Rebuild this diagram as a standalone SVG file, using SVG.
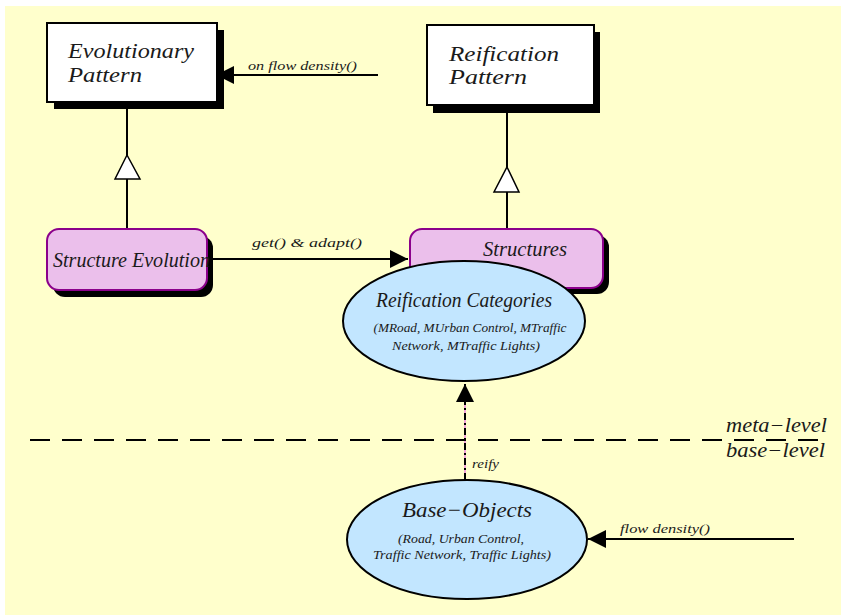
<svg xmlns="http://www.w3.org/2000/svg" width="841" height="615" viewBox="0 0 841 615">
<style>
text{font-family:"Liberation Serif","Times New Roman",serif;font-style:italic;fill:#1a1a1a}
.big{font-size:21px}
.mid{font-size:20px}
.sm{font-size:13px}
.xs{font-size:12px}
.box{fill:#fff;stroke:#000;stroke-width:2}
.shadow{fill:#000}
.rbox{fill:#EBBFEB;stroke:#8B008B;stroke-width:2}
.ell{fill:#C2E6FF;stroke:#000;stroke-width:2}
.ln{stroke:#000;stroke-width:2;fill:none}
</style>
<defs>
<marker id="arr" markerWidth="20" markerHeight="20" refX="18" refY="9" orient="auto" markerUnits="userSpaceOnUse">
<path d="M0,0 L18,9 L0,18 z" fill="#000"/>
</marker>
</defs>
<rect x="5" y="6" width="836" height="609" fill="#FFFFCC"/>
<g id="connectors">
<line class="ln" x1="378" y1="75" x2="216" y2="75" marker-end="url(#arr)"/>
<text class="sm" x="248" y="70" textLength="109" lengthAdjust="spacingAndGlyphs">on flow density()</text>
<line class="ln" x1="127" y1="102" x2="127" y2="229"/>
<path d="M127,155 L140,179 L115,179 z" fill="#fff" stroke="#000" stroke-width="1.5"/>
<line class="ln" x1="507" y1="105" x2="507" y2="229"/>
<path d="M507,167 L519,192 L494,192 z" fill="#fff" stroke="#000" stroke-width="1.5"/>
<line class="ln" x1="207" y1="259" x2="408" y2="259" marker-end="url(#arr)"/>
<text class="sm" x="252" y="247" textLength="110" lengthAdjust="spacingAndGlyphs">get() &amp; adapt()</text>
<line x1="465" y1="480" x2="465" y2="400" stroke="#F2A6D8" stroke-width="2"/>
<line x1="465" y1="480" x2="465" y2="384" stroke="#000" stroke-width="2" stroke-dasharray="7 3 2 3" marker-end="url(#arr)"/>
<text class="xs" x="472" y="468" textLength="27" lengthAdjust="spacingAndGlyphs">reify</text>
<line class="ln" x1="794" y1="539" x2="588" y2="539" marker-end="url(#arr)"/>
<text class="sm" x="620" y="533" textLength="90" lengthAdjust="spacingAndGlyphs">flow density()</text>
<line x1="30" y1="440" x2="826" y2="440" stroke="#000" stroke-width="2" stroke-dasharray="20 12"/>
</g>
<g id="evolutionary-pattern">
<rect class="shadow" x="54" y="30" width="170" height="79"/>
<rect class="box" x="47" y="23" width="170" height="79"/>
<text class="big" x="68" y="58" textLength="126" lengthAdjust="spacingAndGlyphs">Evolutionary</text>
<text class="big" x="68" y="82" textLength="74" lengthAdjust="spacingAndGlyphs">Pattern</text>
</g>
<g id="reification-pattern">
<rect class="shadow" x="433" y="32" width="167" height="81"/>
<rect class="box" x="427" y="25" width="167" height="80"/>
<text class="big" x="449" y="61" textLength="110" lengthAdjust="spacingAndGlyphs">Reification</text>
<text class="big" x="449" y="84" textLength="78" lengthAdjust="spacingAndGlyphs">Pattern</text>
</g>
<g id="structure-evolution">
<rect class="shadow" x="53" y="236" width="160" height="61" rx="12"/>
<rect class="rbox" x="47" y="229" width="160" height="61" rx="12"/>
<text class="mid" x="53" y="267" textLength="157" lengthAdjust="spacingAndGlyphs">Structure Evolution</text>
</g>
<g id="structures">
<rect class="shadow" x="416" y="235" width="193" height="59" rx="12"/>
<rect class="rbox" x="410" y="229" width="193" height="59" rx="12"/>
<text class="mid" x="483" y="256" textLength="84" lengthAdjust="spacingAndGlyphs">Structures</text>
</g>
<g id="reification-categories">
<ellipse class="ell" cx="464" cy="321" rx="121" ry="60"/>
<text class="mid" x="464" y="307" text-anchor="middle" textLength="176" lengthAdjust="spacingAndGlyphs">Reification Categories</text>
<text class="xs" x="470" y="332" text-anchor="middle" textLength="193" lengthAdjust="spacingAndGlyphs">(MRoad, MUrban Control, MTraffic</text>
<text class="xs" x="466" y="350" text-anchor="middle" textLength="148" lengthAdjust="spacingAndGlyphs">Network, MTraffic Lights)</text>
</g>
<g id="base-objects">
<ellipse class="ell" cx="467" cy="539.5" rx="120" ry="59.5"/>
<text class="big" x="467" y="517" text-anchor="middle" textLength="130" lengthAdjust="spacingAndGlyphs">Base−Objects</text>
<text class="xs" x="461" y="543" text-anchor="middle" textLength="126" lengthAdjust="spacingAndGlyphs">(Road, Urban Control,</text>
<text class="xs" x="462" y="559" text-anchor="middle" textLength="178" lengthAdjust="spacingAndGlyphs">Traffic Network, Traffic Lights)</text>
</g>
<g id="level-labels">
<text class="mid" x="726" y="432" textLength="101" lengthAdjust="spacingAndGlyphs">meta−level</text>
<text class="mid" x="726" y="457" textLength="99" lengthAdjust="spacingAndGlyphs">base−level</text>
</g>
</svg>
